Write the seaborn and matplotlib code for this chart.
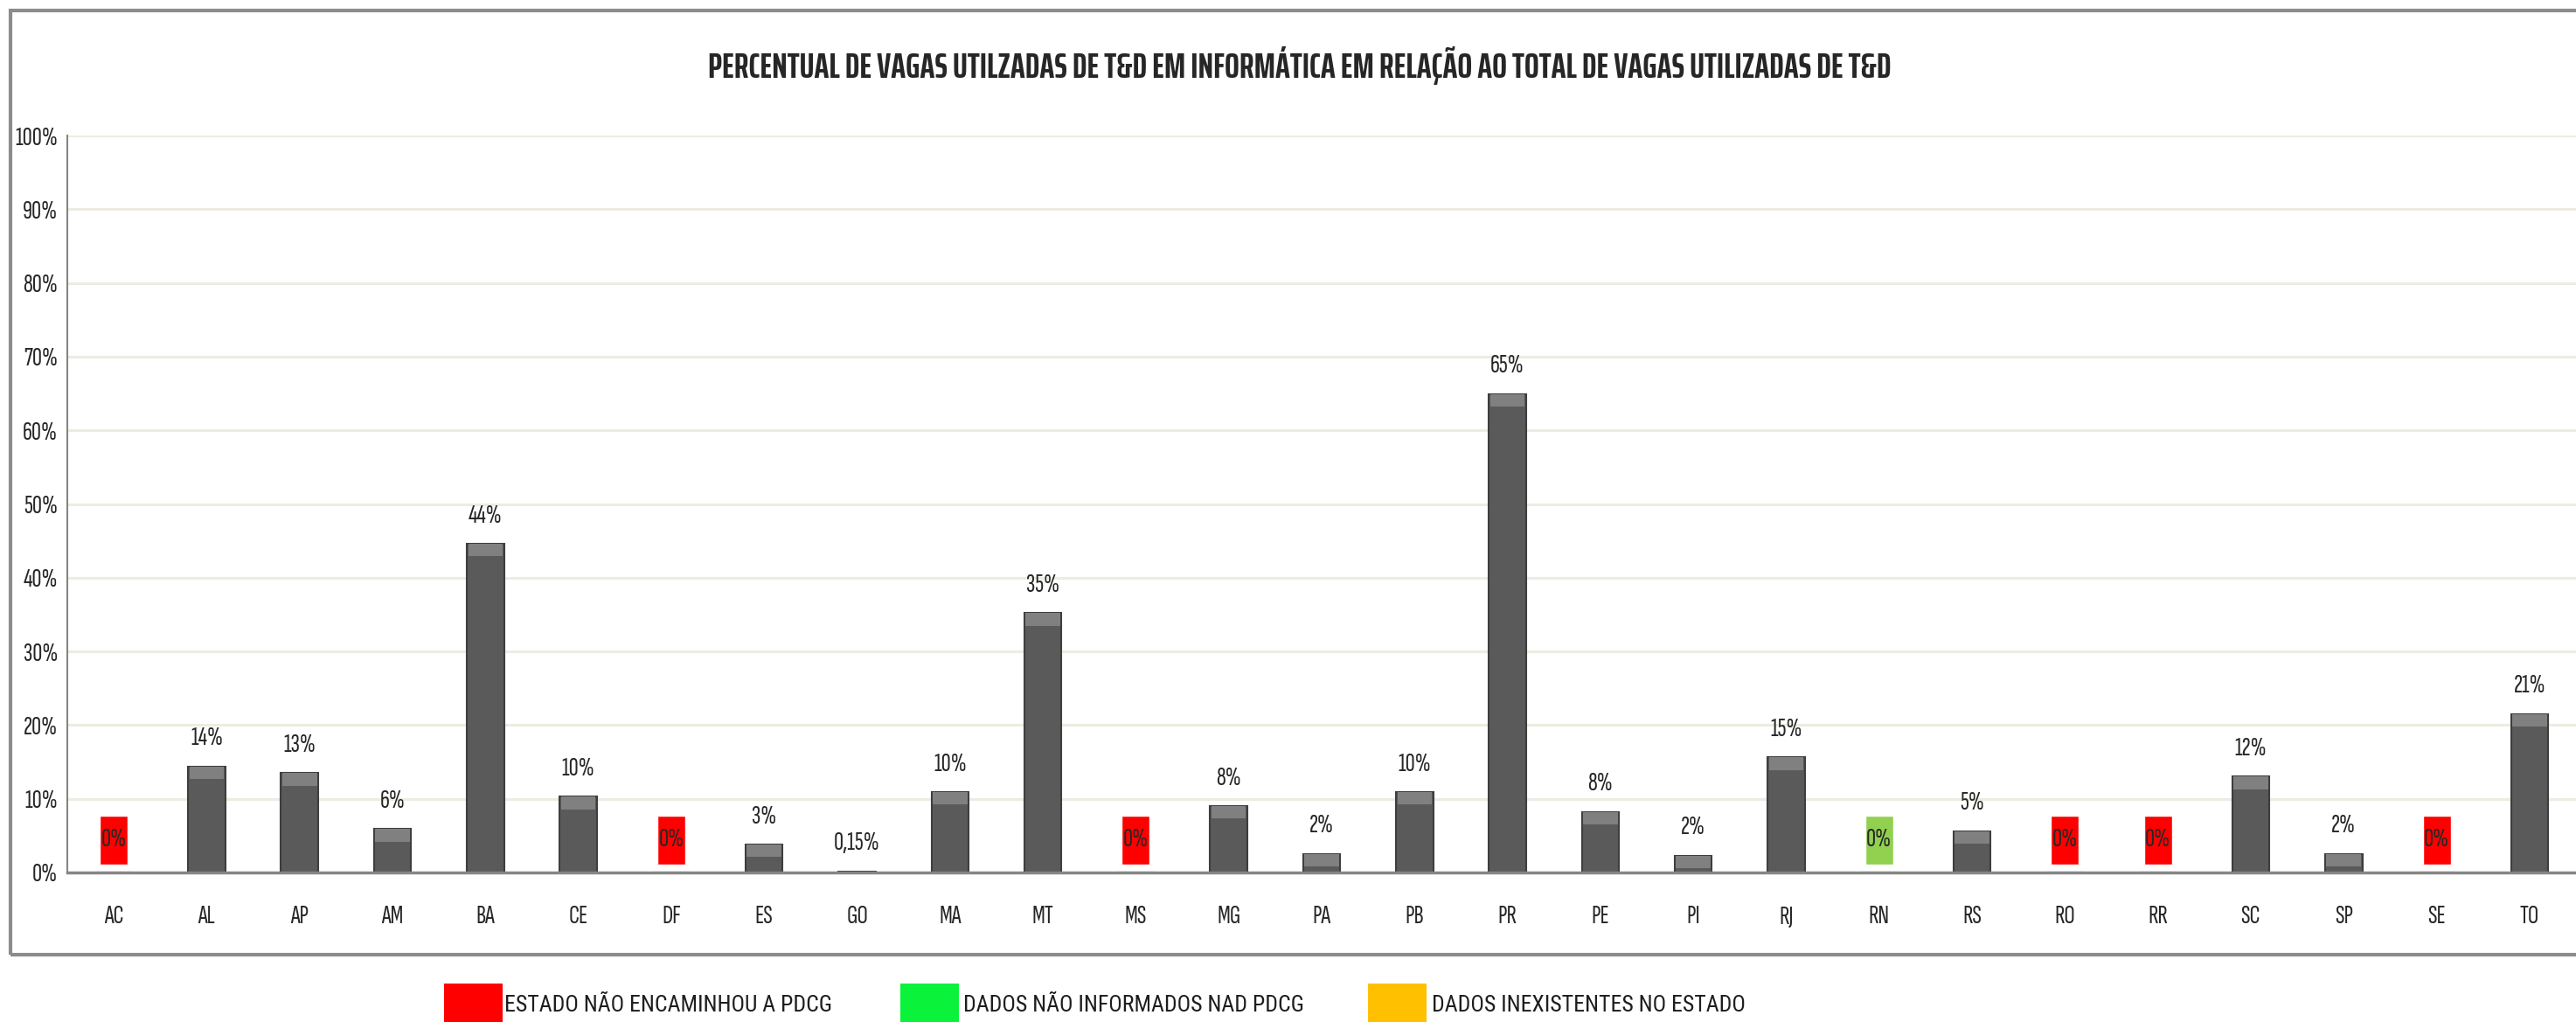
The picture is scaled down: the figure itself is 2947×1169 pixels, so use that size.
import matplotlib
matplotlib.use('Agg')
import matplotlib.pyplot as plt
from matplotlib import font_manager
from matplotlib.patches import Rectangle
import numpy as np
import seaborn as sns

#%% data
states = ['AC', 'AL', 'AP', 'AM', 'BA', 'CE', 'DF', 'ES', 'GO', 'MA', 'MT', 'MS', 'MG', 'PA',
          'PB', 'PR', 'PE', 'PI', 'RJ', 'RN', 'RS', 'RO', 'RR', 'SC', 'SP', 'SE', 'TO']
values = [0, 14.4, 13.5, 5.9, 44.6, 10.3, 0, 3.8, 0.15, 10.9, 35.2, 0, 9.0, 2.5,
          10.9, 64.9, 8.2, 2.3, 15.6, 0, 5.6, 0, 0, 13.0, 2.5, 0, 21.5]
labels = ['0%', '14%', '13%', '6%', '44%', '10%', '0%', '3%', '0,15%', '10%', '35%', '0%', '8%', '2%',
          '10%', '65%', '8%', '2%', '15%', '0%', '5%', '0%', '0%', '12%', '2%', '0%', '21%']
# '' = normal bar, 'sem_pdcg' = estado nao encaminhou, 'nao_inf' = dados nao informados
status = ['sem_pdcg', '', '', '', '', '', 'sem_pdcg', '', '', '', '', 'sem_pdcg', '', '',
          '', '', '', '', '', 'nao_inf', '', 'sem_pdcg', 'sem_pdcg', '', '', 'sem_pdcg', '']
status_colors = {'sem_pdcg': '#FF0000', 'nao_inf': '#92D050'}
legend_labels = ['ESTADO NÃO ENCAMINHOU A PDCG', 'DADOS NÃO INFORMADOS NAD PDCG', 'DADOS INEXISTENTES NO ESTADO']
legend_colors = ['#FF0000', '#0AF23A', '#FFC000']
yticks = np.arange(0, 101, 10)
title = 'PERCENTUAL DE VAGAS UTILZADAS DE T&D EM INFORMÁTICA EM RELAÇÃO AO TOTAL DE VAGAS UTILIZADAS DE T&D'

#%% fonts
sns.set_style('white')
names = {f.name for f in font_manager.fontManager.ttflist}
def pick(cands):
    for c in cands:
        if c in names:
            return c
    return 'DejaVu Sans'
font = pick(['Sofia Sans Extra Condensed', 'Fira Sans Extra Condensed', 'Barlow Condensed'])
title_font = pick(['Saira ExtraCondensed', 'Barlow Condensed', 'Roboto Condensed'])
legend_font = pick(['Roboto Condensed', 'Archivo Narrow', 'Liberation Sans Narrow'])
plt.rcParams['font.family'] = [font, 'DejaVu Sans']

W, H = 2947, 1169
fig = plt.figure(figsize=(W / 100, H / 100), dpi=100)
ax = fig.add_axes([77 / W, 1 - 998 / H, (W - 77) / W, (998 - 155) / H])

bar_w = 0.4
sns.barplot(x=states, y=values, color='#5a5a5a', saturation=1, width=bar_w,
            edgecolor='#3e3e3e', linewidth=1.5, ax=ax)
x = np.arange(len(states))
vals = np.array(values)
# lighter bevel on top of each bar
big = vals >= 1
ax.bar(x[big], 1.7, bottom=vals[big] - 1.7, width=bar_w * 0.93, color='#808080',
       linewidth=0, zorder=3)

fs = 22
for i, s in enumerate(status):
    if s:
        ax.bar(i, 6.6, bottom=1.1, width=0.3, color=status_colors[s], zorder=3)
        ax.text(i, 4.4, labels[i], ha='center', va='center', fontsize=fs, zorder=4)
    else:
        ax.annotate(labels[i], (i, values[i]), xytext=(0, 23), textcoords='offset points',
                    ha='center', va='center', fontsize=fs)

ax.set_xlim(-0.5, len(states) - 0.5)
ax.set_ylim(0, 100)
ax.set_yticks(yticks)
ax.set_yticklabels(['{}%'.format(t) for t in yticks])
ax.yaxis.grid(True, color='#EEECE1', linewidth=2.2)
ax.set_axisbelow(True)
ax.tick_params(axis='y', length=3, width=1.5, color='#868686', pad=5, labelsize=fs)
ax.tick_params(axis='x', length=0, pad=27, labelsize=fs)
for sp in ['top', 'right']:
    ax.spines[sp].set_visible(False)
ax.spines['left'].set_color('#868686')
ax.spines['left'].set_linewidth(1.5)
ax.spines['bottom'].set_color('#868686')
ax.spines['bottom'].set_linewidth(2.5)
ax.set_xlabel('')
ax.set_ylabel('')

# title, scaled so it spans the same width as the reference
t = fig.text(1487 / W, 1 - 75 / H, title, ha='center', va='center', fontsize=30, fontweight='bold',
             family=[title_font, 'DejaVu Sans'])
tw = t.get_window_extent(fig.canvas.get_renderer()).width
t.set_fontsize(30 * 1356 / tw)

# chart frame
fig.add_artist(Rectangle((12 / W, 1 - 1092 / H), 1.0, (1092 - 12) / H, transform=fig.transFigure,
                         fill=False, edgecolor='#8c8c8c', linewidth=3))

# legend boxes
for xb, xt, lab, col in zip([508, 1030, 1565], [577, 1102, 1638], legend_labels, legend_colors):
    fig.add_artist(Rectangle((xb / W, 1 - 1192 / H), 67 / W, 67 / H, transform=fig.transFigure,
                             color=col, linewidth=0))
    fig.text(xt / W, 1 - 1150 / H, lab, ha='left', va='center', fontsize=18.5, color='#1e1e1e',
             family=[legend_font, 'DejaVu Sans'])

fig.savefig('out.png', dpi=100)
